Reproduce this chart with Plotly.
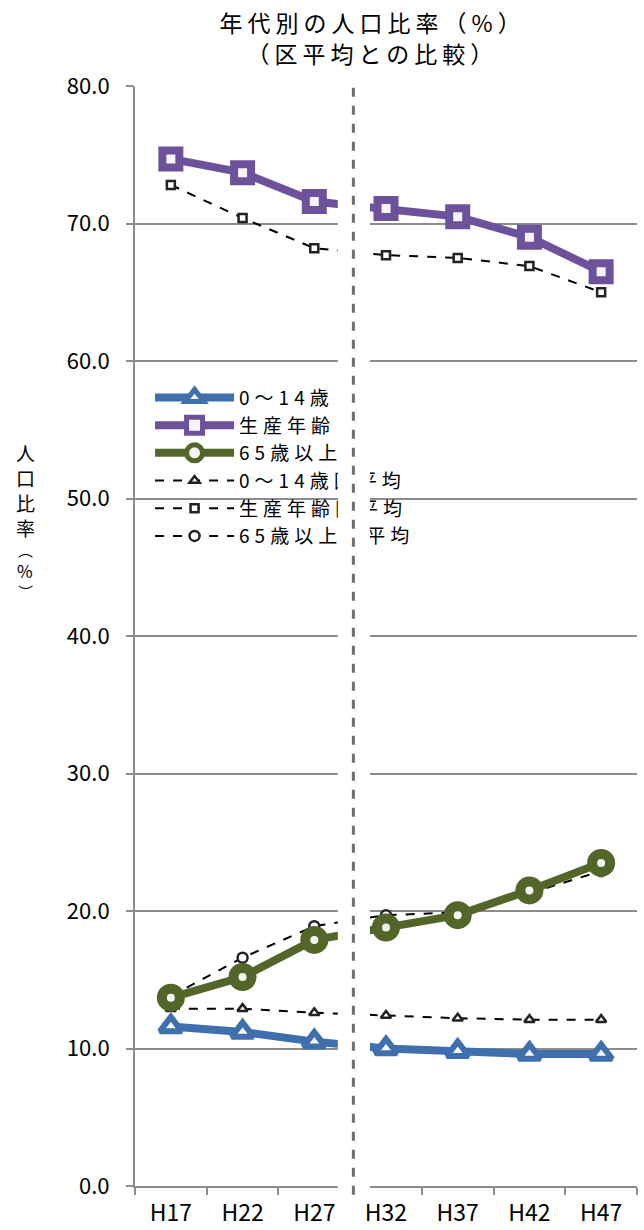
import plotly.graph_objects as go

years = ["H17", "H22", "H27", "H32", "H37", "H42", "H47"]

child = [11.6, 11.2, 10.5, 10.0, 9.8, 9.6, 9.6]
working = [74.7, 73.7, 71.6, 71.1, 70.5, 69.0, 66.5]
elderly = [13.7, 15.2, 17.9, 18.8, 19.7, 21.5, 23.5]
child_avg = [12.9, 12.9, 12.6, 12.4, 12.2, 12.1, 12.1]
working_avg = [72.8, 70.4, 68.2, 67.7, 67.5, 66.9, 65.0]
elderly_avg = [13.8, 16.6, 18.9, 19.7, 19.9, 21.3, 22.9]

names = ["0～14歳", "生産年齢", "65歳以上", "0～14歳区平均", "生産年齢区平均", "65歳以上区平均"]
title_lines = ["年代別の人口比率（%）", "（区平均との比較）"]
ytitle_chars = ["人", "口", "比", "率", "︵", "%", "︶"]

FONT = "Noto Sans CJK JP"
BLUE = "#3f6fad"
PURPLE = "#6d519a"
GREEN = "#536629"

fig = go.Figure()

# dashed average series (drawn first, under the main series)
fig.add_trace(go.Scatter(x=years, y=child_avg, name=names[3], mode="lines+markers",
                         line=dict(color="black", width=2, dash="dash"),
                         marker=dict(symbol="triangle-up", size=9, color="white",
                                     line=dict(color="#222", width=2.5))))
fig.add_trace(go.Scatter(x=years, y=working_avg, name=names[4], mode="lines+markers",
                         line=dict(color="black", width=2, dash="dash"),
                         marker=dict(symbol="square", size=8, color="white",
                                     line=dict(color="#222", width=2.5))))
fig.add_trace(go.Scatter(x=years, y=elderly_avg, name=names[5], mode="lines+markers",
                         line=dict(color="black", width=2, dash="dash"),
                         marker=dict(symbol="circle", size=10, color="white",
                                     line=dict(color="#222", width=2.5))))

fig.add_trace(go.Scatter(x=years, y=child, name=names[0], mode="lines+markers",
                         line=dict(color=BLUE, width=8),
                         marker=dict(symbol="triangle-up", size=19, color="#f4f7fb",
                                     line=dict(color=BLUE, width=6))))
fig.add_trace(go.Scatter(x=years, y=working, name=names[1], mode="lines+markers",
                         line=dict(color=PURPLE, width=8),
                         marker=dict(symbol="square", size=17, color="#f6f4f9",
                                     line=dict(color=PURPLE, width=8))))
fig.add_trace(go.Scatter(x=years, y=elderly, name=names[2], mode="lines+markers",
                         line=dict(color=GREEN, width=8),
                         marker=dict(symbol="circle", size=18, color="#f5f6f1",
                                     line=dict(color=GREEN, width=10))))

fig.update_layout(
    width=644, height=1230,
    margin=dict(l=135, r=7, t=86, b=44),
    paper_bgcolor="white", plot_bgcolor="white",
    font=dict(family=FONT, color="black", size=22),
    showlegend=True,
    legend=dict(x=0.03, y=0.734, xanchor="left", yanchor="top",
                bgcolor="rgba(0,0,0,0)", font=dict(family=FONT, size=19),
                traceorder="normal", tracegroupgap=0,
                itemwidth=79),
    xaxis=dict(type="category", range=[-0.5, 6.5], showgrid=False,
               showline=True, linecolor="#8c8c8c", linewidth=2,
               ticks="outside", tickson="boundaries", ticklen=7,
               tickcolor="#8c8c8c", tickwidth=2, ticklabelstandoff=5,
               automargin=False,
               tickfont=dict(family=FONT, size=23), fixedrange=True),
    yaxis=dict(range=[0, 80], dtick=10, tickformat=".1f",
               showgrid=True, gridcolor="#8c8c8c", gridwidth=2,
               showline=True, linecolor="#8c8c8c", linewidth=2,
               ticks="outside", ticklen=7, tickcolor="#8c8c8c", tickwidth=2,
               ticklabelstandoff=12, automargin=False,
               tickfont=dict(family=FONT, size=22), zeroline=False,
               fixedrange=True),
)

# legend order: main series first, then averages
for i, tr in enumerate(fig.data):
    tr.legendrank = [4, 5, 6, 1, 2, 3][i]

# white break band and dashed separator
fig.add_shape(type="rect", xref="paper", yref="paper",
              x0=0.404, x1=0.468, y0=-0.012, y1=1.002,
              fillcolor="white", line=dict(width=0), layer="above")
fig.add_shape(type="line", xref="paper", yref="paper",
              x0=0.435, x1=0.435, y0=-0.008, y1=1.0,
              line=dict(color="#6e6e6e", width=3, dash="dash"), layer="above")

PLOT_TOP, PLOT_H = 86, 1100


def py(ypx):
    return (PLOT_TOP + PLOT_H - ypx) / PLOT_H


# chart title (two lines)
for txt, ypx in zip(title_lines, [22, 53]):
    fig.add_annotation(text=txt, xref="paper", yref="paper", x=0.474, y=py(ypx),
                       xanchor="center", yanchor="middle", showarrow=False,
                       font=dict(family=FONT, size=23, color="black"))

# vertical y-axis title (stacked characters)
for ch, ypx, fs in zip(ytitle_chars, [452, 477, 502, 527, 549, 570, 591],
                       [19, 19, 19, 19, 15, 17, 15]):
    fig.add_annotation(text=ch, xref="paper", yref="paper", x=-0.219, y=py(ypx),
                       xanchor="center", yanchor="middle", showarrow=False,
                       font=dict(family=FONT, size=fs, color="black"))

post = """
(function(){
document.body.style.margin='0';
var gd=document.getElementById('{plot_id}');
function fix(){
  var above=gd.querySelector('.layer-above');
  var info=gd.querySelector('.infolayer');
  if(above && info && info.parentNode){ info.parentNode.insertBefore(above, info.nextSibling); }
  gd.querySelectorAll('.legendtext').forEach(function(t){t.style.letterSpacing='5px';});
  gd.querySelectorAll('.legend [clip-path]').forEach(function(e){e.removeAttribute('clip-path');});
  gd.querySelectorAll('.annotation-text').forEach(function(t){
    if(t.textContent.length > 3){ t.style.letterSpacing='5px'; }
  });
}
fix();
if(gd.on){ gd.on('plotly_afterplot', fix); }
})();
"""

fig.write_html("out.html", post_script=post, config={"displayModeBar": False})
